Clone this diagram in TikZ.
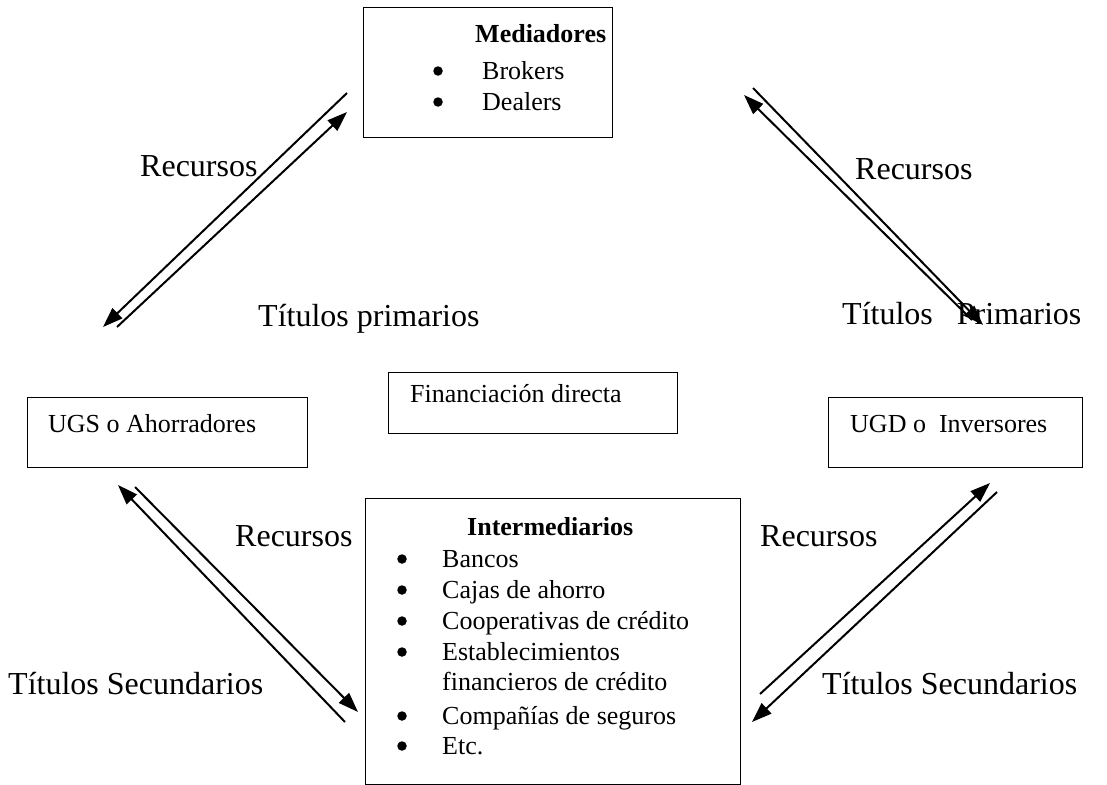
\documentclass[tikz,border=0pt]{standalone}
\usepackage{fontspec}
\setmainfont{Liberation Serif}
\usetikzlibrary{arrows.meta}
\begin{document}
\begin{tikzpicture}[x=1pt,y=-1pt,
  box/.style={draw, line width=1pt, inner sep=0pt},
  big/.style={anchor=base west, inner sep=0pt, font=\fontsize{32}{38}\selectfont},
  small/.style={anchor=base west, inner sep=0pt, font=\fontsize{26}{30}\selectfont},
  smallbf/.style={small, font=\fontsize{26}{30}\selectfont\bfseries},
  dot/.style={circle, fill, inner sep=0pt, minimum size=9.5pt},
  flow/.style={line width=2pt, -{Triangle[length=20pt,width=14pt]}}]
\useasboundingbox (0,0) rectangle (1107,784);

% boxes
\node[box, minimum width=249pt, minimum height=129pt] (med) at (487.5,72.5) {};
\node[box, minimum width=289pt, minimum height=61pt] (fin) at (532.5,402.5) {};
\node[box, minimum width=280pt, minimum height=70pt] (ugs) at (167,432) {};
\node[box, minimum width=254pt, minimum height=70pt] (ugd) at (955,432) {};
\node[box, minimum width=375pt, minimum height=286pt] (int) at (552.5,641) {};

% box texts
\node[smallbf] (medt) at (475,42) {Mediadores};
\node[dot] (mb1) at (438,71) {};
\node[small] (m1) at (482,79) {Brokers};
\node[dot] (mb2) at (438,102) {};
\node[small] (m2) at (482,110) {Dealers};

\node[small] (fint) at (410,402) {Financiación directa};
\node[small] (ugst) at (48,432) {UGS o Ahorradores};
\node[small] (ugdt) at (850,432) {UGD o \ Inversores};

\node[smallbf] (intt) at (467,535) {Intermediarios};
\node[dot] (ib1) at (402,559) {};
\node[small] (i1) at (442,567) {Bancos};
\node[dot] (ib2) at (402,590) {};
\node[small] (i2) at (442,598) {Cajas de ahorro};
\node[dot] (ib3) at (402,621) {};
\node[small] (i3) at (442,629) {Cooperativas de crédito};
\node[dot] (ib4) at (402,652) {};
\node[small] (i4) at (442,660) {Establecimientos};
\node[small] (i5) at (442,690) {financieros de crédito};
\node[dot] (ib6) at (402,716) {};
\node[small] (i6) at (442,724) {Compañías de seguros};
\node[dot] (ib7) at (402,746) {};
\node[small] (i7) at (442,754) {Etc.};

% flow labels
\node[big] (rtl) at (140,176) {Recursos};
\node[big] (rtr) at (855,179) {Recursos};
\node[big] (tpl) at (258,326) {Títulos primarios};
\node[big] (tpr) at (842,324) {Títulos \ \ Primarios};
\node[big] (rbl) at (235,546) {Recursos};
\node[big] (rbr) at (760,546) {Recursos};
\node[big] (tsl) at (8,694) {Títulos Secundarios};
\node[big] (tsr) at (822,694) {Títulos Secundarios};

% arrow end points
\coordinate (a1s) at (347,93);  \coordinate (a1e) at (103,327);
\coordinate (a2s) at (117,327); \coordinate (a2e) at (347,112);
\coordinate (b1s) at (972,320); \coordinate (b1e) at (744,95);
\coordinate (b2s) at (753,88);  \coordinate (b2e) at (983,325);
\coordinate (c1s) at (345,722); \coordinate (c1e) at (118,485);
\coordinate (c2s) at (135,487); \coordinate (c2e) at (358,712);
\coordinate (d1s) at (760,694); \coordinate (d1e) at (990,483);
\coordinate (d2s) at (997,492); \coordinate (d2e) at (752,722);

\draw[flow] (a1s) -- (a1e);
\draw[flow] (a2s) -- (a2e);
\draw[flow] (b1s) -- (b1e);
\draw[flow] (b2s) -- (b2e);
\draw[flow] (c1s) -- (c1e);
\draw[flow] (c2s) -- (c2e);
\draw[flow] (d1s) -- (d1e);
\draw[flow] (d2s) -- (d2e);
\end{tikzpicture}
\end{document}
